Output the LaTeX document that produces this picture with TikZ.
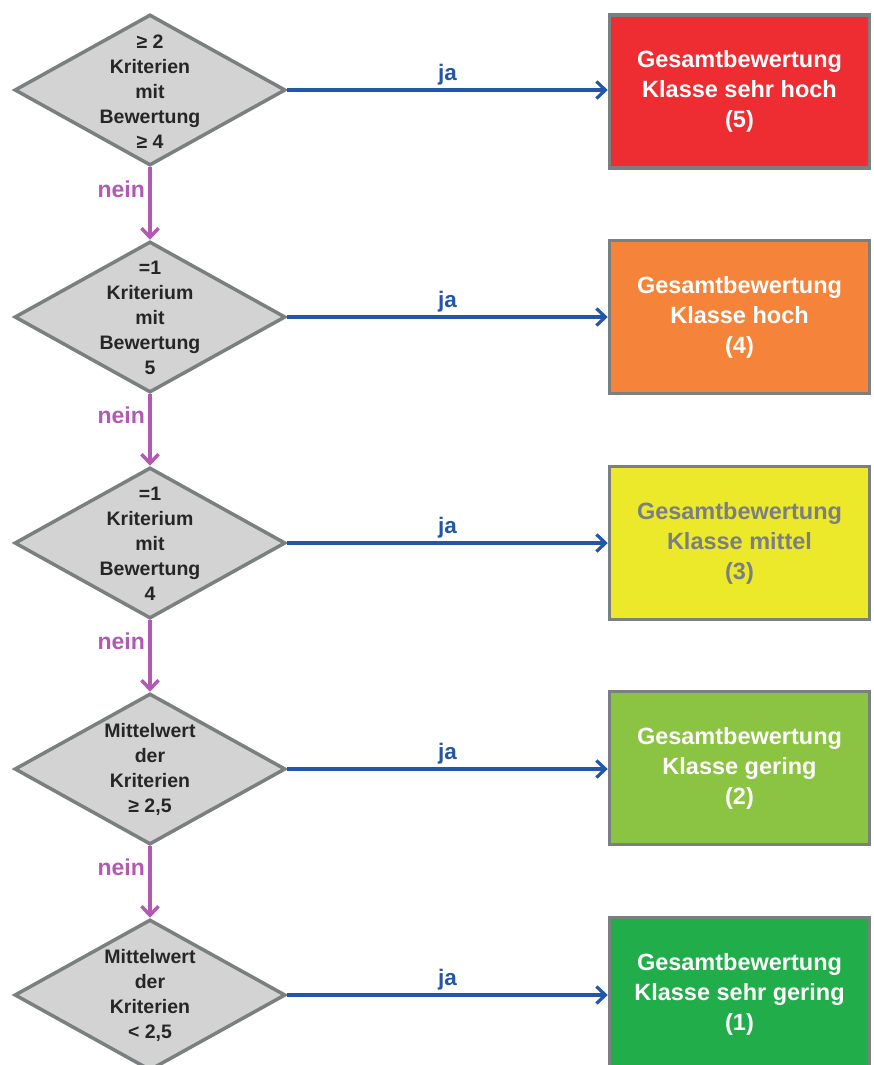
\documentclass[tikz,border=0pt]{standalone}
\usepackage{fontspec}
\setmainfont{Liberation Sans}
\usetikzlibrary{shapes.geometric,arrows.meta}

\definecolor{diafill}{RGB}{211,211,211}
\definecolor{diagray}{RGB}{122,127,128}
\definecolor{jablue}{RGB}{35,86,168}
\definecolor{neinpurple}{RGB}{178,90,178}
\definecolor{klasse5}{RGB}{238,45,51}
\definecolor{klasse4}{RGB}{245,132,58}
\definecolor{klasse3}{RGB}{236,232,42}
\definecolor{klasse2}{RGB}{139,195,66}
\definecolor{klasse1}{RGB}{34,173,75}
\definecolor{greytext}{RGB}{122,127,134}

\tikzset{
  decision/.style={diamond, draw=diagray, fill=diafill, line width=3.5pt,
    minimum width=271pt, minimum height=151pt, inner sep=0pt},
  dtext/.style={align=center, text=black!85,
    font=\bfseries\fontsize{19.5}{25}\selectfont},
  result/.style={rectangle, draw=diagray, line width=3.5pt,
    minimum width=260pt, minimum height=153pt, align=center, text=white,
    font=\bfseries\fontsize{23.5}{30}\selectfont},
  yes/.style={draw=jablue, line width=3.2pt,
    -{Straight Barb[length=9pt,width=17pt]}},
  no/.style={draw=neinpurple, line width=3.5pt,
    -{Straight Barb[length=9pt,width=17pt]}},
  jalabel/.style={text=jablue, font=\bfseries\fontsize{22.5}{24}\selectfont},
  neinlabel/.style={text=neinpurple, font=\bfseries\fontsize{23}{24}\selectfont}
}

\begin{document}
\begin{tikzpicture}[x=1pt,y=-1pt]
        \useasboundingbox (0,0) rectangle (874,1065);

        % Decisions
        \node[decision] (d1) at (150,90) {};
        \node[dtext] (t1) at (150,92) {≥ 2\\Kriterien\\mit\\Bewertung\\≥ 4};
        \node[decision] (d2) at (150,317) {};
        \node[dtext] (t2) at (150,318) {=1\\Kriterium\\mit\\Bewertung\\5};
        \node[decision] (d3) at (150,543) {};
        \node[dtext] (t3) at (150,544) {=1\\Kriterium\\mit\\Bewertung\\4};
        \node[decision] (d4) at (150,769) {};
        \node[dtext] (t4) at (150,769) {Mittelwert\\der\\Kriterien\\≥ 2,5};
        \node[decision] (d5) at (150,995) {};
        \node[dtext] (t5) at (150,995) {Mittelwert\\der\\Kriterien\\< 2,5};

        % Results
        \node[result, fill=klasse5] (b1) at (739.5,91.5) {Gesamtbewertung\\Klasse sehr hoch\\(5)};
        \node[result, fill=klasse4] (b2) at (739.5,317) {Gesamtbewertung\\Klasse hoch\\(4)};
        \node[result, fill=klasse3, text=greytext] (b3) at (739.5,543) {Gesamtbewertung\\Klasse mittel\\(3)};
        \node[result, fill=klasse2] (b4) at (739.5,768) {Gesamtbewertung\\Klasse gering\\(2)};
        \node[result, fill=klasse1] (b5) at (739.5,994) {Gesamtbewertung\\Klasse sehr gering\\(1)};

        % ja
        \draw[yes] (d1.east) -- node[above, jalabel] (j1) {ja} (b1.west |- d1.east);
        \draw[yes] (d2.east) -- node[above, jalabel] (j2) {ja} (b2.west |- d2.east);
        \draw[yes] (d3.east) -- node[above, jalabel] (j3) {ja} (b3.west |- d3.east);
        \draw[yes] (d4.east) -- node[above, jalabel] (j4) {ja} (b4.west |- d4.east);
        \draw[yes] (d5.east) -- node[above, jalabel] (j5) {ja} (b5.west |- d5.east);

        % nein
        \draw[no] (d1.south) -- node[left, pos=0.3, neinlabel] (n1) {nein} (d2.north);
        \draw[no] (d2.south) -- node[left, pos=0.3, neinlabel] (n2) {nein} (d3.north);
        \draw[no] (d3.south) -- node[left, pos=0.3, neinlabel] (n3) {nein} (d4.north);
        \draw[no] (d4.south) -- node[left, pos=0.3, neinlabel] (n4) {nein} (d5.north);
      \end{tikzpicture}
\end{document}
